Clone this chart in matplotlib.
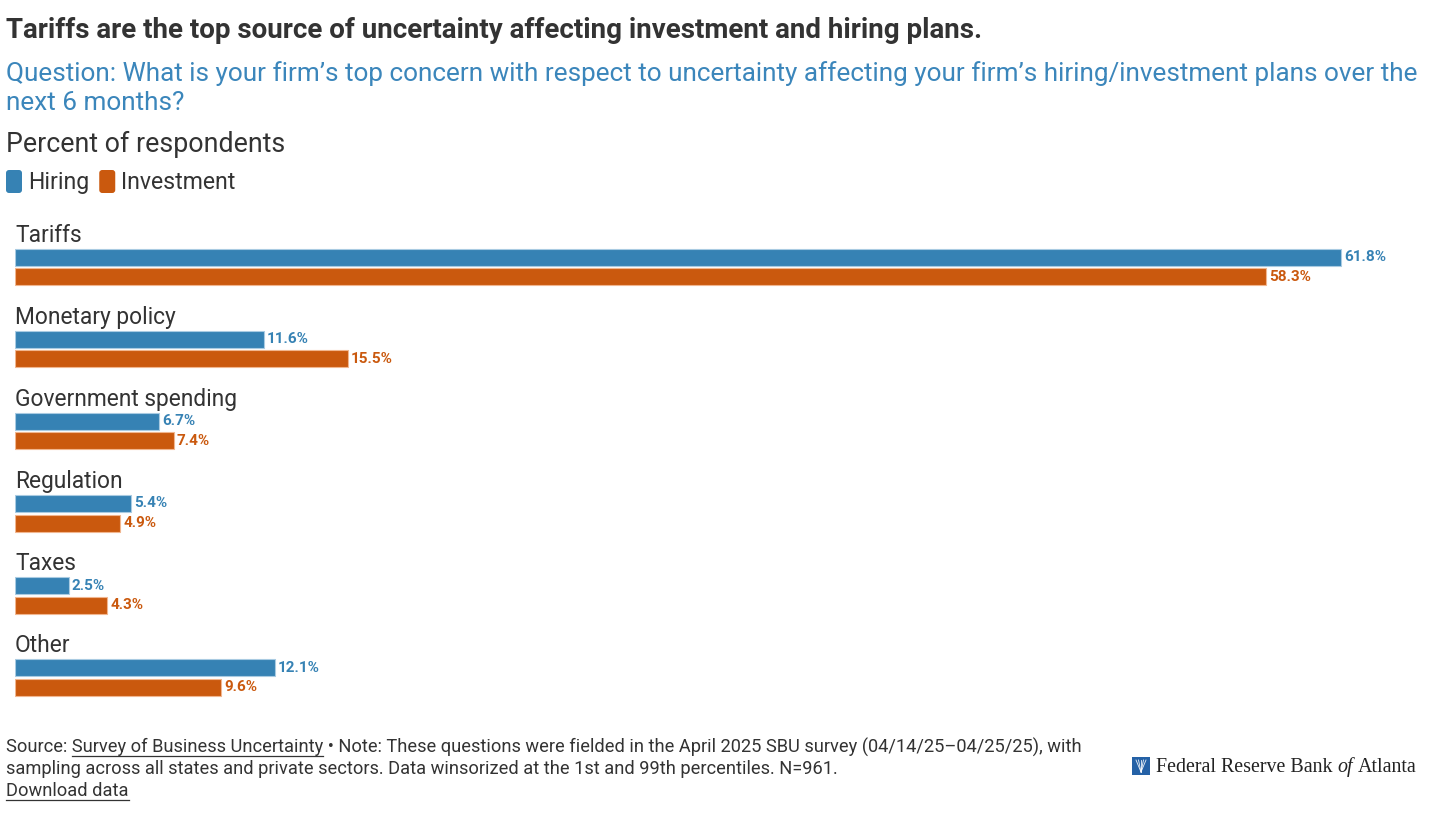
import matplotlib
matplotlib.use("Agg")
import matplotlib.pyplot as plt
from matplotlib.patches import FancyBboxPatch, Rectangle
from matplotlib.lines import Line2D
from matplotlib.transforms import IdentityTransform
import numpy as np

# data
categories = ["Tariffs", "Monetary policy", "Government spending",
              "Regulation", "Taxes", "Other"]
hiring = [61.8, 11.6, 6.7, 5.4, 2.5, 12.1]
investment = [58.3, 15.5, 7.4, 4.9, 4.3, 9.6]
series_names = ["Hiring", "Investment"]

title = "Tariffs are the top source of uncertainty affecting investment and hiring plans."
subtitle = ["Question: What is your firm\u2019s top concern with respect to uncertainty affecting your firm\u2019s hiring/investment plans over the",
            "next 6 months?"]
units = "Percent of respondents"
src_prefix = "Source: "
src_link = "Survey of Business Uncertainty"
note1 = " \u2022 Note: These questions were fielded in the April 2025 SBU survey (04/14/25\u201304/25/25), with"
note2 = "sampling across all states and private sectors. Data winsorized at the 1st and 99th percentiles. N=961."
download = "Download data"

W, H = 1446, 818
BLUE = "#3682b4"
ORANGE = "#ca590e"
BLUE_EDGE = "#a9cbe2"
ORANGE_EDGE = "#f1b68f"
DARK = "#333333"
SUB = "#3b86bb"
FONT = ['Roboto', 'DejaVu Sans']

plt.rcParams['font.family'] = FONT

fig = plt.figure(figsize=(W / 100, H / 100), dpi=100)
fig.patch.set_facecolor("white")
renderer = fig.canvas.get_renderer()


def fx(x):
    return x / W


def fy(y):
    return 1 - y / H


def ftext(x, y, s, **kw):
    # x, y in pixels from top-left, y is the baseline
    return fig.text(fx(x), fy(y), s, va='baseline', ha='left', **kw)


def width_px(s, **kw):
    t = fig.text(0, 0, s, **kw)
    w = t.get_window_extent(renderer=renderer).width
    t.remove()
    return w


# ---- bars ----
ax_left, ax_right, ax_top, ax_bottom = 15, W, 200, 700
px_per_pct = 21.46
group_px = 82
first_center = 257.5

ax = fig.add_axes([fx(ax_left), fy(ax_bottom),
                   (ax_right - ax_left) / W, (ax_bottom - ax_top) / H])
ax.set_xlim(0, (ax_right - ax_left) / px_per_pct)
ax.set_ylim((ax_bottom - first_center) / group_px, (ax_top - first_center) / group_px)
ax.axis('off')

ypos = np.arange(len(categories))
bar_h = 17 / group_px
off = 19.5 / group_px

ax.barh(ypos, hiring, height=bar_h, color=BLUE, edgecolor=BLUE_EDGE, linewidth=0.8)
ax.barh(ypos + off, investment, height=bar_h, color=ORANGE, edgecolor=ORANGE_EDGE, linewidth=0.8)

pad = 3 / px_per_pct
for i, (h, v) in enumerate(zip(hiring, investment)):
    ax.text(h + pad, i, f"{h:.1f}%", va='center', ha='left', fontsize=11,
            fontweight='bold', color=BLUE)
    ax.text(v + pad, i + off, f"{v:.1f}%", va='center', ha='left', fontsize=11,
            fontweight='bold', color=ORANGE)
    ax.text(0, i - 15.8 / group_px, categories[i], va='baseline', ha='left',
            fontsize=16.4, color=DARK)

# ---- header ----
ftext(6, 38, title, fontsize=20, fontweight='bold', color=DARK)
ftext(6, 81, subtitle[0], fontsize=18.8, color=SUB)
ftext(6, 110, subtitle[1], fontsize=18.8, color=SUB)
ftext(6, 152, units, fontsize=19.3, color=DARK)

# legend
x = 6
for name, col in zip(series_names, [BLUE, ORANGE]):
    sw = FancyBboxPatch((x, H - 193), 16, 23, boxstyle="round,pad=0,rounding_size=3",
                        transform=IdentityTransform(), facecolor=col, edgecolor='none')
    fig.add_artist(sw)
    t = ftext(x + 22, 189, name, fontsize=16.6, color=DARK)
    x = t.get_window_extent(renderer=renderer).x1 + 10

# ---- footer ----
fs = 13.15
ftext(6, 752.5, src_prefix + src_link + note1, fontsize=fs, color=DARK)
ftext(6, 774.5, note2, fontsize=fs, color=DARK)
ftext(6, 796.5, download, fontsize=fs, color=DARK)


def underline(x0, y, w):
    fig.add_artist(Line2D([fx(x0), fx(x0 + w)], [fy(y + 3), fy(y + 3)],
                          color=DARK, linewidth=0.9))


full = width_px(src_prefix + src_link, fontsize=fs)
link = width_px(src_link, fontsize=fs)
underline(6 + full - link, 752.5, link)
underline(6, 796.5, width_px(download, fontsize=fs))

# logo
fig.add_artist(Rectangle((1132, H - 775), 18, 18, transform=IdentityTransform(),
                         facecolor="#2461a6", edgecolor='none'))
for dx in [-5, -2.5, 0, 2.5, 5]:
    fig.add_artist(Line2D([fx(1141), fx(1141 + dx)], [fy(772), fy(760)],
                          color="white", linewidth=0.6, alpha=0.9))
serif = ['Liberation Serif', 'DejaVu Serif']
lx = 1156
for piece, style in [("Federal Reserve Bank", 'normal'), ("of", 'italic'), ("Atlanta", 'normal')]:
    t = ftext(lx, 772, piece, fontsize=14.4, family=serif, style=style, color="#222222")
    lx = t.get_window_extent(renderer=renderer).x1 + 5

fig.savefig("out.png", dpi=100, facecolor="white")
